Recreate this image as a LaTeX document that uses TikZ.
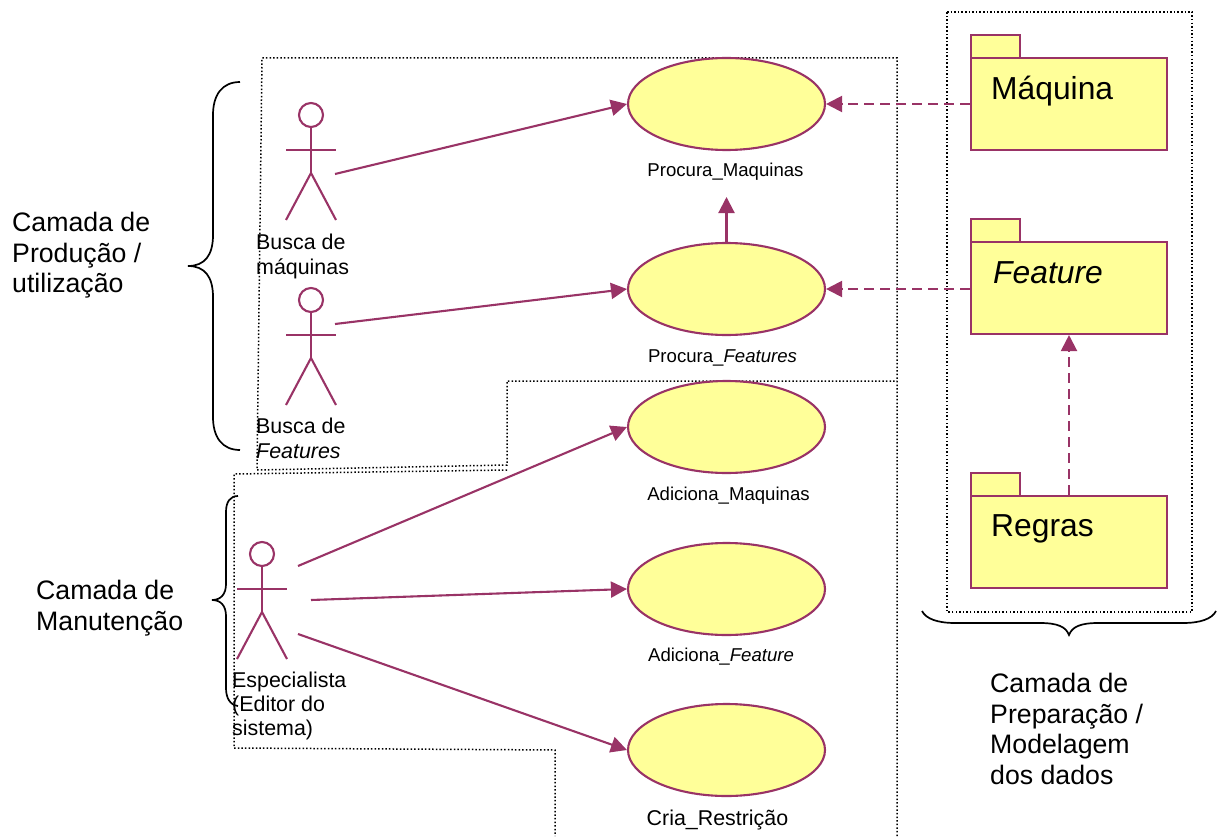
\documentclass[tikz,border=0pt]{standalone}
\usepackage{fontspec}
\setmainfont{Liberation Sans}
\usetikzlibrary{arrows.meta,shapes.geometric}
\definecolor{plum}{HTML}{993366}
\definecolor{pale}{HTML}{FFFF99}
\newcommand{\actorfig}[3]{%
  \node[headc] (#1head) at (#2,#3) {};
  \coordinate (#1hip) at (#2,#3+58);
  \draw[umlline] (#1head.south) -- (#1hip);
  \coordinate (#1al) at (#2-25,#3+35);
  \coordinate (#1ar) at (#2+25,#3+35);
  \coordinate (#1ll) at (#2-25,#3+105);
  \coordinate (#1lr) at (#2+25,#3+105);
  \draw[umlline] (#1al) -- (#1ar);
  \draw[umlline] (#1ll) -- (#1hip) -- (#1lr);
}
\tikzset{
  umlline/.style={draw=plum,line width=2.1pt},
  headc/.style={circle,draw=plum,line width=2.1pt,minimum size=24pt,inner sep=0pt},
  usecase/.style={ellipse,draw=plum,fill=pale,line width=2.1pt,minimum width=197pt,minimum height=92pt,inner sep=0pt},
  pkgbody/.style={rectangle,draw=plum,fill=pale,line width=2.1pt,minimum width=196pt,minimum height=92pt,inner sep=0pt},
  pkgtab/.style={rectangle,draw=plum,fill=pale,line width=2.1pt,minimum width=49pt,minimum height=23pt,inner sep=0pt},
  assoc/.style={draw=plum,line width=2.1pt,-{Triangle[length=16pt,width=16pt]}},
  dep/.style={assoc,dash pattern=on 10pt off 6pt},
  region/.style={draw=black,line width=1.5pt,dash pattern=on 1.5pt off 2.1pt},
  bracel/.style={draw=black,line width=1.7pt},
  midlabel/.style={inner sep=0pt,anchor=base,font=\fontsize{18.6}{20}\selectfont},
  caselabel/.style={inner sep=0pt,anchor=north west,align=left,font=\fontsize{21.4}{24.3}\selectfont},
  layerlabel/.style={inner sep=0pt,anchor=north west,align=left,font=\fontsize{26.7}{30.6}\selectfont},
  pkglabel/.style={inner sep=0pt,anchor=base west,font=\fontsize{31.8}{36}\selectfont},
}
\begin{document}
\begin{tikzpicture}[x=1pt,y=-1pt]
\useasboundingbox (0,0) rectangle (1217,837);
% dotted regions
\draw[region] (897,836) -- (897,58) -- (262,58) -- (257,470) -- (507,465) -- (507,381) -- (897,381);
\draw[region] (507,470) -- (234,474) -- (234,748) -- (555,750) -- (555,836);
\draw[region] (947,12) -- (1192,12) -- (1192,612) -- (947,612) -- cycle;
% braces
\draw[bracel] (240,82) .. controls (222,82) and (213,95) .. (213,115) -- (213,235) .. controls (213,255) and (205,266) .. (188,266) .. controls (205,266) and (213,277) .. (213,297) -- (213,417) .. controls (213,437) and (222,450) .. (240,450);
\draw[bracel] (238,496) .. controls (230,496) and (226,502) .. (226,512) -- (226,584) .. controls (226,594) and (221,600) .. (212,600) .. controls (221,600) and (226,606) .. (226,616) -- (226,688) .. controls (226,698) and (230,705) .. (238,706);
\draw[bracel] (922,611) .. controls (926,619) and (938,623) .. (955,623) -- (1040,623) .. controls (1058,623) and (1066,627) .. (1069,635) .. controls (1072,627) and (1080,623) .. (1098,623) -- (1183,623) .. controls (1200,623) and (1212,619) .. (1216,611);
% use cases
\node[usecase] (e1) at (726.5,104) {};
\node[usecase] (e2) at (726.5,289) {};
\node[usecase] (e3) at (726.5,427) {};
\node[usecase] (e4) at (726.5,589) {};
\node[usecase] (e5) at (726.5,750) {};
\node[midlabel] (l1) at (725.5,177) {Procura\_Maquinas};
\node[midlabel] (l2) at (722.5,362) {Procura\_\textit{Features}};
\node[midlabel] (l3) at (728.5,500) {Adiciona\_Maquinas};
\node[midlabel] (l4) at (721,661) {Adiciona\_\textit{Feature}};
\node[caselabel,anchor=base] (l5) at (717.5,825) {Cria\_Restrição};
% packages
\node[pkgtab] (t1) at (995.5,46.5) {};
\node[pkgbody] (p1) at (1069,104) {};
\node[pkgtab] (t2) at (995.5,230.5) {};
\node[pkgbody] (p2) at (1069,288) {};
\node[pkgtab] (t3) at (995.5,484.5) {};
\node[pkgbody] (p3) at (1069,542) {};
\node[pkglabel] (n1) at (991,100) {Máquina};
\node[pkglabel] (n2) at (993,283) {\textit{Feature}};
\node[pkglabel] (n3) at (991,536) {Regras};
% actors
\actorfig{a}{311}{115}
\actorfig{b}{311}{300}
\actorfig{c}{262}{554}
\node[caselabel] (an1) at (256,234) {Busca de\\máquinas};
\node[caselabel] (an2) at (256,418) {Busca de\\\textit{Features}};
\node[caselabel] (an3) at (232,671.5) {Especialista\\(Editor do\\sistema)};
% connectors
\coordinate (s1) at (335,174);
\coordinate (s2) at (335,324);
\coordinate (s3) at (298,566);
\coordinate (s4) at (311,600);
\coordinate (s5) at (298,634);
\coordinate (up) at (726.5,197);
\draw[assoc] (s1) -- (e1.west);
\draw[assoc] (s2) -- (e2.west);
\draw[assoc] (s3) -- (e3.west);
\draw[assoc] (s4) -- (e4.west);
\draw[assoc] (s5) -- (e5.west);
\draw[assoc] (e2.north) -- (up);
\draw[dep] (p1.west) -- (e1.east);
\draw[dep] (p2.west |- e2.east) -- (e2.east);
\draw[dep] (p3.north) -- (p2.south);
% layer labels
\node[layerlabel] (c1) at (12,212) {Camada de\\Produção /\\utilização};
\node[layerlabel] (c2) at (36,580) {Camada de\\Manutenção};
\node[layerlabel] (c3) at (990,673) {Camada de\\Preparação /\\Modelagem\\dos dados};
\end{tikzpicture}
\end{document}
